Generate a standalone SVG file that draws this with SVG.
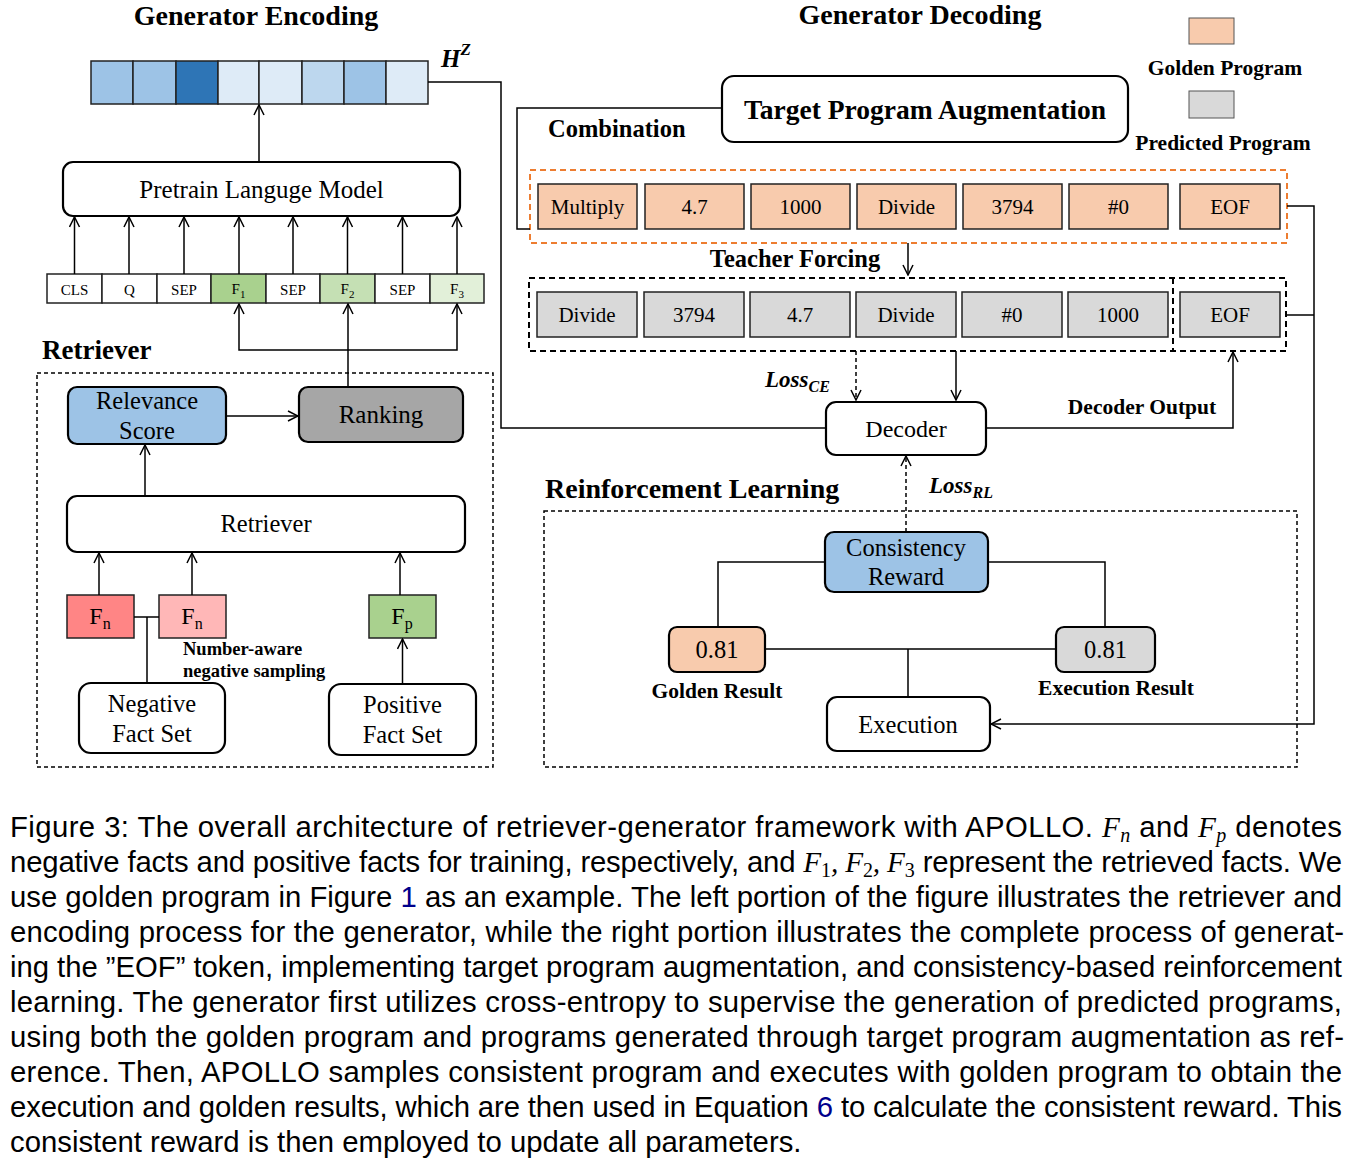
<svg xmlns="http://www.w3.org/2000/svg" width="1359" height="1161" viewBox="0 0 1359 1161">
<defs>
<marker id="arr" viewBox="0 0 12 12" markerWidth="12" markerHeight="12" refX="11" refY="6" orient="auto" markerUnits="userSpaceOnUse">
<path d="M1,1 L11,6 L1,11" fill="none" stroke="#000" stroke-width="1.5"/>
</marker>
</defs>
<style>
.t{font-family:"Liberation Serif","Times New Roman",serif;fill:#000}
.b{font-weight:bold}
.m{text-anchor:middle}
.box{stroke:#000;stroke-width:2.2}
.cell{stroke:#222;stroke-width:1.5}
.ln{stroke:#000;stroke-width:1.5;fill:none}
.dl{stroke-dasharray:4,3}
.cap{font-family:"Liberation Sans",Arial,sans-serif;font-size:29.3px;fill:#000}
.mi{font-family:"Liberation Serif","Times New Roman",serif;font-style:italic}
.ms{font-family:"Liberation Serif","Times New Roman",serif;font-style:italic;font-size:20px}
.md{font-family:"Liberation Serif","Times New Roman",serif;font-size:20px}
.lnk{fill:#00008B}
</style>
<rect width="1359" height="1161" fill="#fff"/>

<!-- headings -->
<text class="t b m" x="256" y="25" font-size="28">Generator Encoding</text>
<text class="t b m" x="920" y="24" font-size="28">Generator Decoding</text>

<!-- encoding output bar -->
<g id="hz">
<rect class="cell" x="91" y="61" width="42" height="43" fill="#9DC3E6"/>
<rect class="cell" x="133" y="61" width="43" height="43" fill="#9DC3E6"/>
<rect class="cell" x="176" y="61" width="42" height="43" fill="#2E75B6"/>
<rect class="cell" x="218" y="61" width="41" height="43" fill="#DEEBF7"/>
<rect class="cell" x="259" y="61" width="43" height="43" fill="#DEEBF7"/>
<rect class="cell" x="302" y="61" width="42" height="43" fill="#BDD7EE"/>
<rect class="cell" x="344" y="61" width="42" height="43" fill="#9DC3E6"/>
<rect class="cell" x="386" y="61" width="42" height="43" fill="#DEEBF7"/>
<text class="t b" x="441" y="67" font-size="25" font-style="italic">H<tspan dy="-12" font-size="17">Z</tspan></text>
</g>

<g id="plm">
<rect class="box" x="63" y="162" width="397" height="54" rx="10" fill="#fff" stroke-width="2.5"/>
<text class="t m" x="261.5" y="198" font-size="25">Pretrain Languge Model</text>
</g>

<g id="tokens" font-size="15">
<rect class="cell" x="47" y="274" width="55" height="29" fill="#fff"/>
<rect class="cell" x="102" y="274" width="55" height="29" fill="#fff"/>
<rect class="cell" x="157" y="274" width="54" height="29" fill="#fff"/>
<rect class="cell" x="211" y="274" width="55" height="29" fill="#A9D18E"/>
<rect class="cell" x="266" y="274" width="54" height="29" fill="#fff"/>
<rect class="cell" x="320" y="274" width="55" height="29" fill="#C5E0B4"/>
<rect class="cell" x="375" y="274" width="55" height="29" fill="#fff"/>
<rect class="cell" x="430" y="274" width="54" height="29" fill="#E2F0D9"/>
<text class="t m" x="74.5" y="295" font-size="15">CLS</text>
<text class="t m" x="129.5" y="295" font-size="15">Q</text>
<text class="t m" x="184" y="295" font-size="15">SEP</text>
<text class="t m" x="238.5" y="294" font-size="15">F<tspan dy="4" font-size="11">1</tspan></text>
<text class="t m" x="293" y="295" font-size="15">SEP</text>
<text class="t m" x="347.5" y="294" font-size="15">F<tspan dy="4" font-size="11">2</tspan></text>
<text class="t m" x="402.5" y="295" font-size="15">SEP</text>
<text class="t m" x="457" y="294" font-size="15">F<tspan dy="4" font-size="11">3</tspan></text>
</g>

<text class="t b" x="42" y="359" font-size="27">Retriever</text>
<rect class="ln dl" x="37" y="373" width="456" height="394" stroke-width="1.3"/>

<g id="relevance">
<rect class="box" x="68" y="387" width="158" height="57" rx="9" fill="#9DC3E6"/>
<text class="t m" x="147" y="409" font-size="24.5">Relevance</text>
<text class="t m" x="147" y="439" font-size="24.5">Score</text>
</g>
<g id="ranking">
<rect class="box" x="299" y="387" width="164" height="55" rx="9" fill="#A6A6A6"/>
<text class="t m" x="381" y="423" font-size="25">Ranking</text>
</g>
<g id="retriever">
<rect class="box" x="67" y="496" width="398" height="56" rx="10" fill="#fff" stroke-width="2.5"/>
<text class="t m" x="266" y="532" font-size="24.5">Retriever</text>
</g>
<g id="fn1">
<rect class="cell" x="67" y="595" width="67" height="43" fill="#FF8585"/>
<text class="t m" x="100" y="624" font-size="24">F<tspan dy="5" font-size="16">n</tspan></text>
</g>
<g id="fn2">
<rect class="cell" x="159" y="595" width="67" height="43" fill="#FFB7B7"/>
<text class="t m" x="192" y="624" font-size="24">F<tspan dy="5" font-size="16">n</tspan></text>
</g>
<g id="fp">
<rect class="cell" x="369" y="595" width="67" height="43" fill="#A9D18E"/>
<text class="t m" x="402" y="624" font-size="24">F<tspan dy="5" font-size="16">p</tspan></text>
</g>
<text class="t b" x="183" y="655" font-size="18.5">Number-aware</text>
<text class="t b" x="183" y="677" font-size="18.5">negative sampling</text>
<g id="negative">
<rect class="box" x="79" y="683" width="146" height="70" rx="12" fill="#fff"/>
<text class="t m" x="152" y="712" font-size="24.5">Negative</text>
<text class="t m" x="152" y="742" font-size="24.5">Fact Set</text>
</g>
<g id="positive">
<rect class="box" x="329" y="684" width="147" height="71" rx="12" fill="#fff"/>
<text class="t m" x="402.5" y="713" font-size="24.5">Positive</text>
<text class="t m" x="402.5" y="743" font-size="24.5">Fact Set</text>
</g>

<!-- Right side -->
<g id="legend">
<rect x="1189" y="18" width="45" height="26" fill="#F8CBAD" stroke="#555" stroke-width="1"/>
<text class="t b m" x="1225" y="75" font-size="21.5">Golden Program</text>
<rect x="1189" y="91" width="45" height="27" fill="#D9D9D9" stroke="#555" stroke-width="1"/>
<text class="t b m" x="1223" y="150" font-size="21.5">Predicted Program</text>
</g>
<g id="tpa">
<rect class="box" x="722" y="76" width="406" height="66" rx="12" fill="#fff" stroke-width="2.5"/>
<text class="t b m" x="925" y="119" font-size="27.5">Target Program Augmentation</text>
</g>
<text class="t b" x="548" y="137" font-size="24.5">Combination</text>

<g id="golden">
<rect x="530" y="170" width="757" height="73" fill="none" stroke="#ED7D31" stroke-width="2" stroke-dasharray="6,4"/>
<g fill="#F8CBAD">
<rect class="cell" x="538" y="184" width="99" height="45"/>
<rect class="cell" x="645" y="184" width="99" height="45"/>
<rect class="cell" x="751" y="184" width="99" height="45"/>
<rect class="cell" x="857" y="184" width="99" height="45"/>
<rect class="cell" x="963" y="184" width="99" height="45"/>
<rect class="cell" x="1069" y="184" width="99" height="45"/>
<rect class="cell" x="1180" y="184" width="100" height="45"/>
</g>
<g class="t m" font-size="21">
<text x="587.5" y="214">Multiply</text>
<text x="694.5" y="214">4.7</text>
<text x="800.5" y="214">1000</text>
<text x="906.5" y="214">Divide</text>
<text x="1012.5" y="214">3794</text>
<text x="1118.5" y="214">#0</text>
<text x="1230" y="214">EOF</text>
</g>
</g>
<text class="t b m" x="795" y="267" font-size="24.5">Teacher Forcing</text>

<g id="predicted">
<rect x="529" y="278" width="757" height="73" fill="none" stroke="#000" stroke-width="2" stroke-dasharray="6,4"/>
<line x1="1173" y1="278" x2="1173" y2="351" stroke="#000" stroke-width="2" stroke-dasharray="6,4"/>
<g fill="#D9D9D9">
<rect class="cell" x="537" y="292" width="100" height="45"/>
<rect class="cell" x="644" y="292" width="100" height="45"/>
<rect class="cell" x="750" y="292" width="100" height="45"/>
<rect class="cell" x="856" y="292" width="100" height="45"/>
<rect class="cell" x="962" y="292" width="100" height="45"/>
<rect class="cell" x="1068" y="292" width="100" height="45"/>
<rect class="cell" x="1180" y="292" width="100" height="45"/>
</g>
<g class="t m" font-size="21">
<text x="587" y="322">Divide</text>
<text x="694" y="322">3794</text>
<text x="800" y="322">4.7</text>
<text x="906" y="322">Divide</text>
<text x="1012" y="322">#0</text>
<text x="1118" y="322">1000</text>
<text x="1230" y="322">EOF</text>
</g>
</g>

<g id="decoder">
<rect class="box" x="826" y="402" width="160" height="53" rx="10" fill="#fff" stroke-width="2.5"/>
<text class="t m" x="906" y="437" font-size="24">Decoder</text>
</g>
<text class="t b" x="765" y="387" font-size="23" font-style="italic">Loss<tspan dy="5" font-size="16">CE</tspan></text>
<text class="t b m" x="1142" y="414" font-size="21.5">Decoder Output</text>

<text class="t b" x="545" y="498" font-size="28">Reinforcement Learning</text>
<text class="t b" x="929" y="493" font-size="23" font-style="italic">Loss<tspan dy="5" font-size="16">RL</tspan></text>
<rect class="ln dl" x="544" y="511" width="753" height="256" stroke-width="1.3"/>

<g id="consistency">
<rect class="box" x="825" y="532" width="163" height="60" rx="9" fill="#9DC3E6"/>
<text class="t m" x="906" y="556" font-size="24.5">Consistency</text>
<text class="t m" x="906" y="585" font-size="24.5">Reward</text>
</g>
<g id="golden-result">
<rect class="box" x="669" y="627" width="96" height="45" rx="8" fill="#F8CBAD"/>
<text class="t m" x="717" y="658" font-size="24.5">0.81</text>
<text class="t b m" x="717" y="698" font-size="21.5">Golden Result</text>
</g>
<g id="exec-result">
<rect class="box" x="1056" y="627" width="99" height="45" rx="8" fill="#D9D9D9"/>
<text class="t m" x="1105.5" y="658" font-size="24.5">0.81</text>
<text class="t b m" x="1116" y="695" font-size="21.5">Execution Result</text>
</g>
<g id="execution">
<rect class="box" x="827" y="697" width="163" height="54" rx="10" fill="#fff" stroke-width="2.5"/>
<text class="t m" x="908" y="733" font-size="24.5">Execution</text>
</g>

<!-- connectors -->
<g id="connectors" class="ln">
<path d="M259,162 V105" marker-end="url(#arr)"/>
<path d="M74.5,274 V217" marker-end="url(#arr)"/>
<path d="M129,274 V217" marker-end="url(#arr)"/>
<path d="M184,274 V217" marker-end="url(#arr)"/>
<path d="M239,274 V217" marker-end="url(#arr)"/>
<path d="M293,274 V217" marker-end="url(#arr)"/>
<path d="M347.5,274 V217" marker-end="url(#arr)"/>
<path d="M402.5,274 V217" marker-end="url(#arr)"/>
<path d="M457,274 V217" marker-end="url(#arr)"/>
<path d="M348,350 H239 V304" marker-end="url(#arr)"/>
<path d="M348,350 H457 V304" marker-end="url(#arr)"/>
<path d="M348,387 V304" marker-end="url(#arr)"/>
<path d="M226,416 H298" marker-end="url(#arr)"/>
<path d="M145,496 V445" marker-end="url(#arr)"/>
<path d="M99,595 V553" marker-end="url(#arr)"/>
<path d="M192,595 V553" marker-end="url(#arr)"/>
<path d="M400,595 V553" marker-end="url(#arr)"/>
<path d="M402.5,684 V639" marker-end="url(#arr)"/>
<path d="M134,617 H159 M147,617 V683"/>
<path d="M428,82 H501 V428 H826"/>
<path d="M722,108 H517 V229 H530"/>
<path d="M908,243 V275" marker-end="url(#arr)"/>
<path d="M856,351 V400" class="dl" marker-end="url(#arr)"/>
<path d="M956,351 V400" marker-end="url(#arr)"/>
<path d="M987,428 H1233 V352" marker-end="url(#arr)"/>
<path d="M1287,206 H1314 V724 H991" marker-end="url(#arr)"/>
<path d="M1287,315 H1314"/>
<path d="M906,532 V456" class="dl" marker-end="url(#arr)"/>
<path d="M825,562 H718 V627 M988,562 H1105 V627"/>
<path d="M765,649 H1056 M908,649 V697"/>
</g>

<!-- caption -->
<g id="caption">
<text class="cap" x="10" y="837" textLength="1332" lengthAdjust="spacing">Figure 3: The overall architecture of retriever-generator framework with APOLLO. <tspan class="mi">F</tspan><tspan class="ms" dy="5">n</tspan><tspan dy="-5"> and </tspan><tspan class="mi">F</tspan><tspan class="ms" dy="5">p</tspan><tspan dy="-5"> denotes</tspan></text>
<text class="cap" x="10" y="872" textLength="1332" lengthAdjust="spacing">negative facts and positive facts for training, respectively, and <tspan class="mi">F</tspan><tspan class="md" dy="5">1</tspan><tspan class="mi" dy="-5">, F</tspan><tspan class="md" dy="5">2</tspan><tspan class="mi" dy="-5">, F</tspan><tspan class="md" dy="5">3</tspan><tspan dy="-5"> represent the retrieved facts. We</tspan></text>
<text class="cap" x="10" y="907" textLength="1332" lengthAdjust="spacing">use golden program in Figure <tspan class="lnk">1</tspan> as an example. The left portion of the figure illustrates the retriever and</text>
<text class="cap" x="10" y="942" textLength="1334" lengthAdjust="spacing">encoding process for the generator, while the right portion illustrates the complete process of generat-</text>
<text class="cap" x="10" y="977" textLength="1332" lengthAdjust="spacing">ing the ”EOF” token, implementing target program augmentation, and consistency-based reinforcement</text>
<text class="cap" x="10" y="1012" textLength="1332" lengthAdjust="spacing">learning. The generator first utilizes cross-entropy to supervise the generation of predicted programs,</text>
<text class="cap" x="10" y="1047" textLength="1334" lengthAdjust="spacing">using both the golden program and programs generated through target program augmentation as ref-</text>
<text class="cap" x="10" y="1082" textLength="1332" lengthAdjust="spacing">erence. Then, APOLLO samples consistent program and executes with golden program to obtain the</text>
<text class="cap" x="10" y="1117" textLength="1332" lengthAdjust="spacing">execution and golden results, which are then used in Equation <tspan class="lnk">6</tspan> to calculate the consistent reward. This</text>
<text class="cap" x="10" y="1152">consistent reward is then employed to update all parameters.</text>
</g>
</svg>
